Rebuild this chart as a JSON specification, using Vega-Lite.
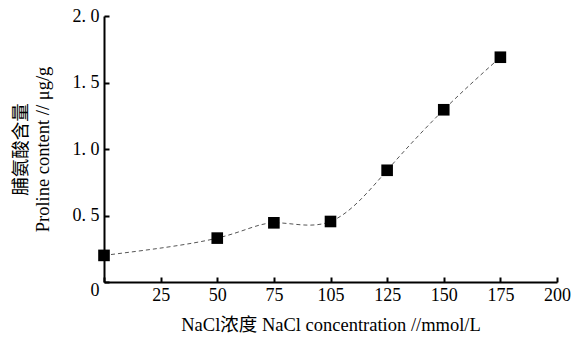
{
  "$schema": "https://vega.github.io/schema/vega-lite/v6.json",
  "width": 453,
  "height": 266,
  "autosize": "none",
  "padding": {"left": 104, "top": 16, "right": 27, "bottom": 58},
  "background": "white",
  "config": {
    "view": {"stroke": null},
    "font": "Liberation Serif",
    "axis": {
      "domainColor": "black",
      "domainWidth": 2,
      "tickColor": "black",
      "tickWidth": 2,
      "tickSize": -5,
      "grid": false,
      "labelColor": "black",
      "labelFont": "Liberation Serif",
      "labelFontSize": 18,
      "titleColor": "black",
      "titleFont": ["Liberation Serif", "Noto Sans CJK SC"],
      "titleFontSize": 18.5,
      "titleFontWeight": "normal"
    }
  },
  "data": {
    "values": [
      {"c": 0, "p": 0.2},
      {"c": 50, "p": 0.33},
      {"c": 75, "p": 0.445},
      {"c": 100, "p": 0.455},
      {"c": 125, "p": 0.84},
      {"c": 150, "p": 1.295},
      {"c": 175, "p": 1.69}
    ]
  },
  "encoding": {
    "x": {
      "field": "c",
      "type": "quantitative",
      "scale": {"domain": [0, 200], "nice": false, "zero": true},
      "axis": {
        "values": [0, 25, 50, 75, 100, 125, 150, 175, 200],
        "labelExpr": "datum.value == 0 ? '' : datum.value == 100 ? '105' : datum.label",
        "labelPadding": 9,
        "labelFlush": false,
        "title": "NaCl浓度 NaCl concentration //mmol/L",
        "titlePadding": 11
      }
    },
    "y": {
      "field": "p",
      "type": "quantitative",
      "scale": {"domain": [0, 2], "nice": false},
      "axis": {
        "values": [0, 0.5, 1, 1.5, 2],
        "labelExpr": "datum.value == 0 ? '0' : replace(format(datum.value, '.1f'), '.', '. ')",
        "labelPadding": 10,
        "labelOffset": {"condition": {"test": "datum.value == 0", "value": 8}, "value": 0},
        "labelFlush": false,
        "title": ["脯氨酸含量", "Proline content // μg/g"],
        "titlePadding": 20,
        "titleLineHeight": 22
      }
    }
  },
  "layer": [
    {
      "mark": {"type": "line", "interpolate": "natural", "color": "#555555", "strokeWidth": 1, "strokeDash": [4, 3]}
    },
    {
      "mark": {"type": "point", "shape": "square", "filled": true, "color": "black", "opacity": 1, "size": 135}
    }
  ]
}
